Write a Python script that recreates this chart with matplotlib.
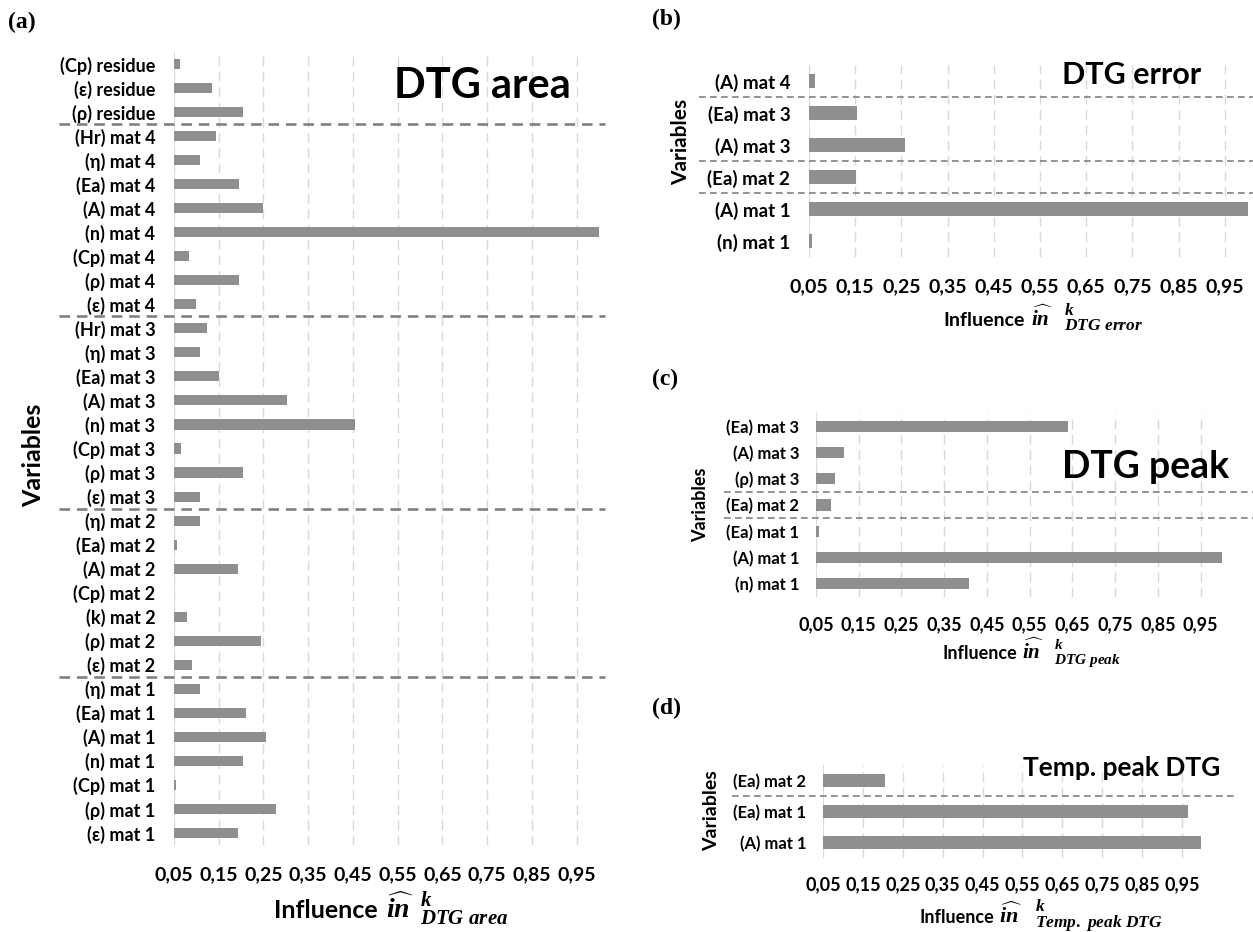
import matplotlib
matplotlib.use('Agg')
import matplotlib.pyplot as plt
import numpy as np
from matplotlib.transforms import blended_transform_factory

W, H = 1253, 932
plt.rcParams['font.family'] = ['Lato', 'Open Sans', 'DejaVu Sans']
plt.rcParams['font.weight'] = 'bold'
plt.rcParams['mathtext.fontset'] = 'custom'
plt.rcParams['mathtext.it'] = 'Liberation Serif:italic:bold'
plt.rcParams['mathtext.rm'] = 'Liberation Serif:bold'
plt.rcParams['mathtext.bf'] = 'Liberation Serif:bold'

# ---------------- data ----------------
tick_values = [0.05, 0.15, 0.25, 0.35, 0.45, 0.55, 0.65, 0.75, 0.85, 0.95]
tick_labels = ['0,05', '0,15', '0,25', '0,35', '0,45', '0,55', '0,65', '0,75', '0,85', '0,95']

area_labels = ['(Cp) residue', '(ε) residue', '(ρ) residue',
               '(Hr) mat 4', '(η) mat 4', '(Ea) mat 4', '(A) mat 4', '(n) mat 4',
               '(Cp) mat 4', '(ρ) mat 4', '(ε) mat 4',
               '(Hr) mat 3', '(η) mat 3', '(Ea) mat 3', '(A) mat 3', '(n) mat 3',
               '(Cp) mat 3', '(ρ) mat 3', '(ε) mat 3',
               '(η) mat 2', '(Ea) mat 2', '(A) mat 2', '(Cp) mat 2', '(k) mat 2',
               '(ρ) mat 2', '(ε) mat 2',
               '(η) mat 1', '(Ea) mat 1', '(A) mat 1', '(n) mat 1', '(Cp) mat 1',
               '(ρ) mat 1', '(ε) mat 1']
area_values = [0.064, 0.136, 0.205,
               0.143, 0.107, 0.195, 0.250, 1.000, 0.084, 0.195, 0.099,
               0.124, 0.107, 0.150, 0.303, 0.455, 0.065, 0.205, 0.109,
               0.107, 0.057, 0.193, 0.000, 0.079, 0.245, 0.090,
               0.107, 0.211, 0.256, 0.205, 0.055, 0.278, 0.194]
area_groups = [3, 8, 8, 7, 7]

error_labels = ['(A) mat 4', '(Ea) mat 3', '(A) mat 3', '(Ea) mat 2', '(A) mat 1', '(n) mat 1']
error_values = [0.064, 0.153, 0.258, 0.152, 1.000, 0.057]
error_groups = [1, 2, 1, 2]

peak_labels = ['(Ea) mat 3', '(A) mat 3', '(ρ) mat 3', '(Ea) mat 2', '(Ea) mat 1', '(A) mat 1', '(n) mat 1']
peak_values = [0.640, 0.116, 0.094, 0.084, 0.057, 1.000, 0.407]
peak_groups = [3, 1, 3]

temp_labels = ['(Ea) mat 2', '(Ea) mat 1', '(A) mat 1']
temp_values = [0.205, 0.965, 0.998]
temp_groups = [1, 2]

BAR = '#8f8f8f'
SEP = '#808080'
GRID = '#d9d9d9'

fig = plt.figure(figsize=(W / 100, H / 100), dpi=100)
fig.patch.set_facecolor('white')


def fx(px):
    return px / W


def fy(py):
    return 1 - py / H


def panel(box, labels, values, groups, ylab_size, xtick_size, ytick_pad, xtick_pad,
          sep_x, sep_lw):
    left, right, top, bottom = box
    ax = fig.add_axes([fx(left), fy(bottom), (right - left) / W, (bottom - top) / H])
    n = len(labels)
    pos = np.arange(n)
    ax.barh(pos, values, height=0.42, color=BAR, left=0, zorder=3)
    ax.set_xlim(0.05, 1.0)
    ax.set_ylim(n - 0.5, -0.5)
    ax.set_yticks(pos)
    ax.set_yticklabels(labels, fontsize=ylab_size, fontweight='bold')
    ax.set_xticks(tick_values)
    ax.set_xticklabels(tick_labels, fontsize=xtick_size, fontweight='bold')
    ax.tick_params(axis='y', length=0, pad=ytick_pad)
    ax.tick_params(axis='x', length=0, pad=xtick_pad)
    for s in ax.spines.values():
        s.set_visible(False)
    for t in tick_values:
        ax.axvline(t, color=GRID, lw=1.0, ls=(0, (7, 4)), zorder=1)
    ax.axvline(0.05, color=GRID, lw=1.2, zorder=1)
    tr = blended_transform_factory(fig.transFigure, ax.transData)
    for b in np.cumsum(groups)[:-1]:
        ax.plot([fx(sep_x[0]), fx(sep_x[1])], [b - 0.5, b - 0.5], transform=tr,
                color=SEP, lw=sep_lw, ls=(0, (4, 2.6)), clip_on=False, zorder=4)
    return ax


# (a)
panel((174, 599, 52, 845), area_labels, area_values, area_groups,
      13, 14, 13.5, 15, (59, 605), 1.9)
# (b)
panel((809, 1248, 65, 257), error_labels, error_values, error_groups,
      13.5, 14, 13.5, 15, (699, 1253), 1.2)
# (c)
panel((816, 1222, 413, 597), peak_labels, peak_values, peak_groups,
      12, 13, 12, 14, (724, 1253), 1.2)
# (d)
panel((823, 1202, 765, 858), temp_labels, temp_values, temp_groups,
      12, 13, 12, 13, (732, 1236), 1.2)

# panel letters
for txt, x, y in [('(a)', 8, 22), ('(b)', 652, 19), ('(c)', 652, 379), ('(d)', 652, 708)]:
    fig.text(fx(x), fy(y), txt, fontsize=17, fontweight='bold', family='Liberation Serif',
             ha='left', va='center')

# big titles
fig.text(fx(482), fy(86), 'DTG area', fontsize=30, fontweight='bold', ha='center', va='center')
fig.text(fx(1132), fy(75), 'DTG error', fontsize=22, fontweight='bold', ha='center', va='center')
fig.text(fx(1146), fy(467), 'DTG peak', fontsize=27, fontweight='bold', ha='center', va='center')
fig.text(fx(1122), fy(768), 'Temp. peak DTG', fontsize=19, fontweight='bold', ha='center', va='center')

# y labels
for x, y, s in [(34, 455, 18), (681, 142, 15), (701, 505, 13), (712, 811, 14)]:
    fig.text(fx(x), fy(y), 'Variables', rotation=90, fontsize=s, fontweight='bold',
             ha='center', va='center')

# x labels: word, hat-in, superscript k and subscript built as pieces
# (word_right, baseline, word_size, in_left, in_size, script_left, k_base, sub_base, script_size, sub)
xlabels = [
    (378, 918, 18, 386, 20, 420, 906, 924, 15, r'$DTG\ area$'),
    (1025, 326, 14, 1031, 15, 1064, 315, 330, 12.5, r'$DTG\ error$'),
    (1017, 659, 13, 1022, 15, 1054, 649, 664, 11, r'$DTG\ peak$'),
    (994, 923, 13, 999, 16, 1035, 911, 927, 12.5, r'$Temp.\ peak\ DTG$'),
]
for xw, yb, sw, xi, si, xs, kb, sb, ss, sub in xlabels:
    fig.text(fx(xw), fy(yb), 'Influence', fontsize=sw, fontweight='bold',
             ha='right', va='baseline')
    fig.text(fx(xi), fy(yb), r'$\widehat{in}$', fontsize=si, ha='left', va='baseline')
    fig.text(fx(xs), fy(kb), r'$k$', fontsize=ss, ha='left', va='baseline')
    fig.text(fx(xs), fy(sb), sub, fontsize=ss, ha='left', va='baseline')

fig.savefig('out.png', dpi=100, facecolor='white')
